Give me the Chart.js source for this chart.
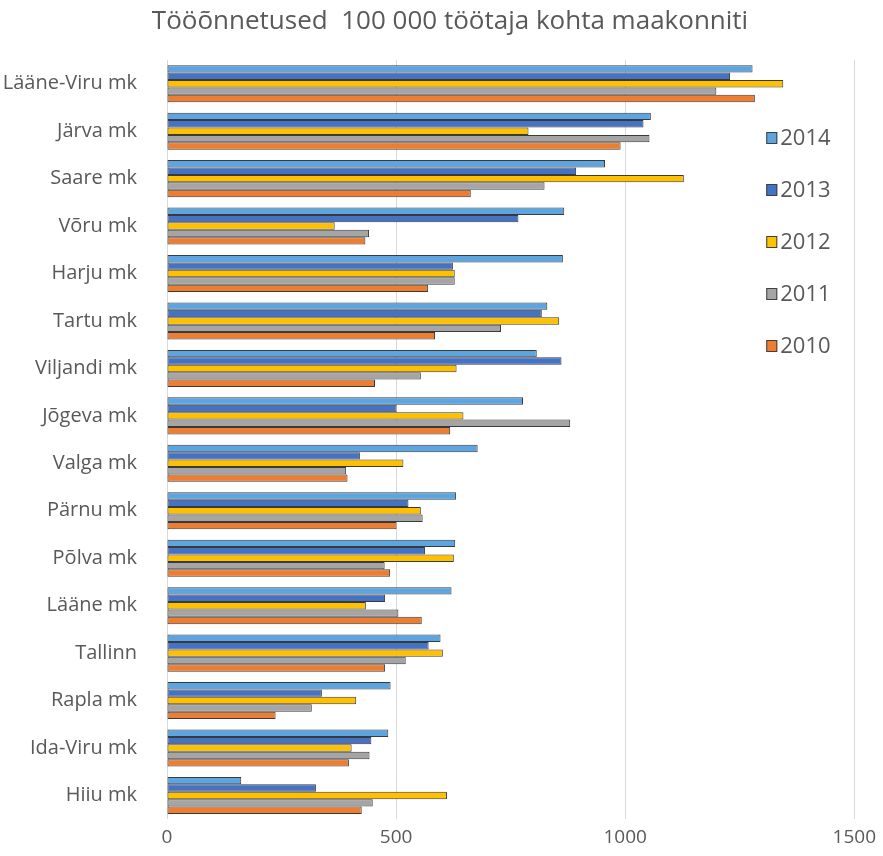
<!DOCTYPE html>
<html>
<head>
<meta charset="utf-8">
<script src="https://cdn.jsdelivr.net/npm/chart.js@4"></script>
<style>
  body { margin: 0; background: #fff; }
</style>
</head>
<body>
<canvas id="myChart" width="883" height="856"></canvas>
<script>
const counties = ['Lääne-Viru mk', 'Järva mk', 'Saare mk', 'Võru mk', 'Harju mk', 'Tartu mk', 'Viljandi mk', 'Jõgeva mk',
  'Valga mk', 'Pärnu mk', 'Põlva mk', 'Lääne mk', 'Tallinn', 'Rapla mk', 'Ida-Viru mk', 'Hiiu mk'];

const years = ['2014', '2013', '2012', '2011', '2010'];

const y2014 = [1278, 1056, 956, 867, 864, 830, 807, 777, 678, 631, 629, 621, 597, 488, 483, 162];
const y2013 = [1229, 1040, 893, 767, 624, 818, 861, 501, 421, 527, 563, 476, 571, 338, 446, 325];
const y2012 = [1345, 789, 1128, 366, 628, 856, 632, 647, 516, 554, 626, 434, 602, 413, 403, 611];
const y2011 = [1199, 1053, 824, 441, 628, 729, 554, 880, 391, 558, 475, 505, 521, 316, 442, 449];
const y2010 = [1283, 990, 663, 433, 570, 585, 454, 618, 394, 501, 487, 556, 476, 237, 397, 425];

const xTicks = [0, 500, 1000, 1500];

const seriesValues = [y2014, y2013, y2012, y2011, y2010];
const colors = ['#5DA5E0', '#4472C4', '#FFC000', '#A5A5A5', '#ED7D31'];

const titleText = 'Tööõnnetused  100 000 töötaja kohta maakonniti';
const textColor = '#595959';
const fontFamily = '"Open Sans", "Liberation Sans", sans-serif';

// title + legend drawn by hand so they sit where the original has them
const sideLegend = {
  id: 'sideLegend',
  afterDraw(chart) {
    const ctx = chart.ctx;
    const area = chart.chartArea;
    ctx.save();
    ctx.fillStyle = textColor;
    ctx.font = '26px ' + fontFamily;
    ctx.textAlign = 'center';
    ctx.textBaseline = 'middle';
    ctx.fillText(titleText, 450, 22);

    const x = area.right - 88;
    let y = area.top + 78;
    ctx.textAlign = 'left';
    ctx.font = '22px ' + fontFamily;
    chart.data.datasets.forEach(ds => {
      ctx.fillStyle = ds.backgroundColor;
      ctx.fillRect(x, y - 6, 11, 12);
      ctx.strokeStyle = '#404040';
      ctx.lineWidth = 1;
      ctx.strokeRect(x + 0.5, y - 5.5, 10, 11);
      ctx.fillStyle = textColor;
      ctx.fillText(ds.label, x + 14, y + 1);
      y += 52;
    });
    ctx.restore();
  }
};

const ctx = document.getElementById('myChart').getContext('2d');

const chart = new Chart(ctx, {
  type: 'bar',
  data: {
    labels: counties,
    datasets: years.map((year, i) => ({
      label: year,
      data: seriesValues[i],
      backgroundColor: colors[i],
      borderColor: '#3a3a3a',
      borderWidth: 1,
      borderSkipped: false,
      categoryPercentage: 0.78,
      barPercentage: 1
    }))
  },
  options: {
    indexAxis: 'y',
    responsive: false,
    animation: false,
    layout: { padding: { left: 0, right: 26, top: 60, bottom: 0 } },
    plugins: {
      legend: { display: false },
      tooltip: { enabled: false },
      title: { display: false }
    },
    scales: {
      x: {
        min: 0,
        max: 1500,
        afterBuildTicks: scale => { scale.ticks = xTicks.map(v => ({ value: v })); },
        grid: { color: '#d9d9d9', drawTicks: false },
        border: { display: false },
        ticks: {
          color: textColor,
          padding: 7,
          font: { family: fontFamily, size: 19 },
          callback: value => String(value)
        }
      },
      y: {
        grid: { display: false },
        border: { display: false },
        afterFit: scale => { scale.width = 167; },
        ticks: { color: textColor, padding: 22, font: { family: fontFamily, size: 20 } }
      }
    }
  },
  plugins: [sideLegend]
});
</script>
</body>
</html>
